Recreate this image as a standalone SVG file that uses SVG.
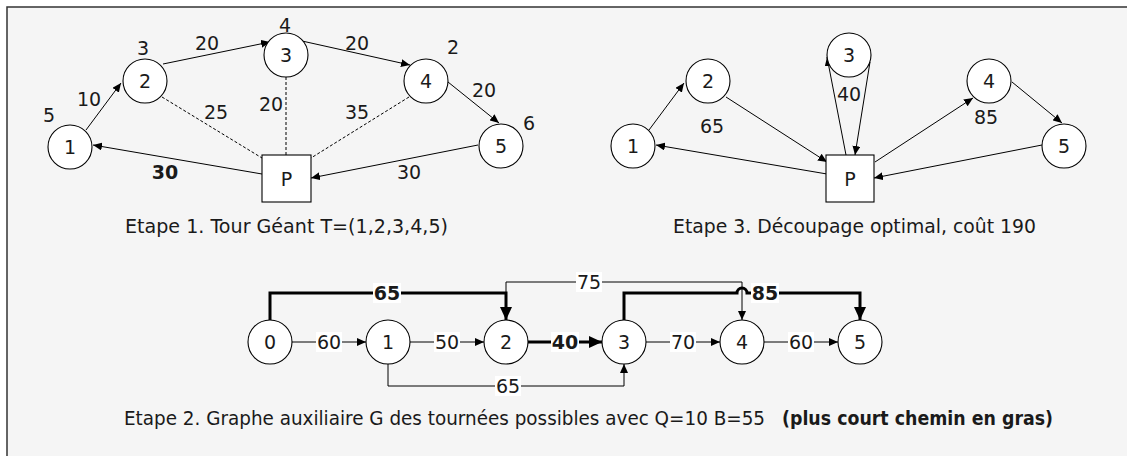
<svg xmlns="http://www.w3.org/2000/svg" width="1127" height="456" viewBox="0 0 1127 456">
<style>
text{font-family:"DejaVu Sans","Liberation Sans",sans-serif;font-size:19px;fill:#1a1a1a}
.m{text-anchor:middle}
.b{font-weight:bold}
.n circle,.n rect{fill:#fff;stroke:#000;stroke-width:1.1}
.e{fill:none;stroke:#000;stroke-width:1}
.d{fill:none;stroke:#000;stroke-width:1;stroke-dasharray:3,2}
.t{fill:none;stroke:#000;stroke-width:3}
.lb{fill:#fff}
</style>
<defs>
<marker id="a" markerUnits="userSpaceOnUse" markerWidth="10" markerHeight="8" refX="9" refY="4" orient="auto"><path d="M0,0 L9,4 L0,8 z" fill="#000"/></marker>
<marker id="A" markerUnits="userSpaceOnUse" markerWidth="14" markerHeight="12" refX="13" refY="6" orient="auto"><path d="M0,0 L13,6 L0,12 z" fill="#000"/></marker>
</defs>
<rect x="7" y="7" width="1130" height="460" fill="#f5f5f5" stroke="#333" stroke-width="1.5"/>

<g id="connectors">
<!-- Etape 1 -->
<line class="e" x1="86" y1="130" x2="121" y2="83" marker-end="url(#a)"/>
<line class="e" x1="163" y1="64" x2="270" y2="42" marker-end="url(#a)"/>
<line class="e" x1="302" y1="41" x2="410" y2="65" marker-end="url(#a)"/>
<line class="e" x1="448" y1="82" x2="499" y2="123" marker-end="url(#a)"/>
<line class="e" x1="478" y1="145" x2="311" y2="178" marker-end="url(#a)"/>
<line class="e" x1="262" y1="174" x2="93" y2="145" marker-end="url(#a)"/>
<line class="d" x1="162" y1="97" x2="262" y2="158"/>
<line class="d" x1="286" y1="77" x2="286" y2="155"/>
<line class="d" x1="409" y1="97" x2="311" y2="158"/>
<!-- Etape 3 -->
<line class="e" x1="649" y1="130" x2="684" y2="83" marker-end="url(#a)"/>
<line class="e" x1="726" y1="97" x2="827" y2="162" marker-end="url(#a)"/>
<line class="e" x1="827" y1="174" x2="656" y2="145" marker-end="url(#a)"/>
<line class="e" x1="846" y1="155" x2="827" y2="57" marker-end="url(#a)"/>
<line class="e" x1="870" y1="62" x2="855" y2="155" marker-end="url(#a)"/>
<line class="e" x1="875" y1="162" x2="973" y2="98" marker-end="url(#a)"/>
<line class="e" x1="1012" y1="82" x2="1062" y2="123" marker-end="url(#a)"/>
<line class="e" x1="1042" y1="145" x2="874" y2="178" marker-end="url(#a)"/>
<!-- Etape 2 -->
<line class="e" x1="292" y1="342" x2="366" y2="342" marker-end="url(#a)"/>
<line class="e" x1="410" y1="342" x2="484" y2="342" marker-end="url(#a)"/>
<line class="t" x1="528" y1="342" x2="602" y2="342" marker-end="url(#A)"/>
<line class="e" x1="646" y1="342" x2="720" y2="342" marker-end="url(#a)"/>
<line class="e" x1="764" y1="342" x2="838" y2="342" marker-end="url(#a)"/>
<path class="e" d="M506,320 V282 H742 V320" marker-end="url(#a)"/>
<path class="t" d="M270,320 V293 H506 V320" marker-end="url(#A)"/>
<path class="t" d="M624,320 V293 H737 A5,5 0 0 1 747,293 H860 V320" marker-end="url(#A)"/>
<path class="e" d="M388,364 V386 H624 V364" marker-end="url(#a)"/>
</g>

<g id="labels-etape1">
<text class="m" x="49" y="122">5</text>
<text class="m" x="89" y="106">10</text>
<text class="m" x="143" y="55">3</text>
<text class="m" x="207" y="50">20</text>
<text class="m" x="285" y="32">4</text>
<text class="m" x="357" y="50">20</text>
<text class="m" x="453" y="54">2</text>
<text class="m" x="484" y="97">20</text>
<text class="m" x="529" y="130">6</text>
<text class="m" x="216" y="119">25</text>
<text class="m" x="271" y="111">20</text>
<text class="m" x="357" y="119">35</text>
<text class="m b" x="165" y="179">30</text>
<text class="m" x="409" y="179">30</text>
<text x="125" y="233" textLength="323" lengthAdjust="spacingAndGlyphs">Etape 1. Tour Géant T=(1,2,3,4,5)</text>
</g>
<g id="labels-etape3">
<text class="m" x="712" y="133">65</text>
<text class="m" x="849" y="101">40</text>
<text class="m" x="986" y="124">85</text>
<text x="673" y="233" textLength="363" lengthAdjust="spacingAndGlyphs">Etape 3. Découpage optimal, coût 190</text>
</g>
<g id="labels-etape2">
<rect class="lb" x="316" y="332" width="26" height="20"/><text class="m" x="329" y="349">60</text>
<rect class="lb" x="434" y="332" width="26" height="20"/><text class="m" x="447" y="349">50</text>
<rect class="lb" x="551" y="332" width="28" height="20"/><text class="m b" x="565" y="349">40</text>
<rect class="lb" x="670" y="332" width="26" height="20"/><text class="m" x="683" y="349">70</text>
<rect class="lb" x="788" y="332" width="26" height="20"/><text class="m" x="801" y="349">60</text>
<rect class="lb" x="373" y="283" width="28" height="20"/><text class="m b" x="387" y="300">65</text>
<rect class="lb" x="576" y="272" width="26" height="20"/><text class="m" x="589" y="289">75</text>
<rect class="lb" x="751" y="283" width="28" height="20"/><text class="m b" x="765" y="300">85</text>
<rect class="lb" x="495" y="376" width="26" height="20"/><text class="m" x="508" y="393">65</text>
<text x="124" y="425" textLength="641" lengthAdjust="spacingAndGlyphs">Etape 2. Graphe auxiliaire G des tournées possibles avec Q=10 B=55</text>
<text class="b" x="782" y="425" textLength="271" lengthAdjust="spacingAndGlyphs">(plus court chemin en gras)</text>
</g>

<g id="e1-n1" class="n"><circle cx="70" cy="147" r="22"/><text class="m" x="70" y="154">1</text></g>
<g id="e1-n2" class="n"><circle cx="145" cy="81" r="22"/><text class="m" x="145" y="88">2</text></g>
<g id="e1-n3" class="n"><circle cx="286" cy="55" r="22"/><text class="m" x="286" y="62">3</text></g>
<g id="e1-n4" class="n"><circle cx="426" cy="81" r="22"/><text class="m" x="426" y="88">4</text></g>
<g id="e1-n5" class="n"><circle cx="501" cy="146" r="22"/><text class="m" x="501" y="153">5</text></g>
<g id="e1-P" class="n"><rect x="262" y="155" width="49" height="47"/><text class="m" x="286.5" y="186">P</text></g>

<g id="e3-n1" class="n"><circle cx="633" cy="146" r="22"/><text class="m" x="633" y="153">1</text></g>
<g id="e3-n2" class="n"><circle cx="708" cy="81" r="22"/><text class="m" x="708" y="88">2</text></g>
<g id="e3-n3" class="n"><circle cx="849" cy="55" r="22"/><text class="m" x="849" y="62">3</text></g>
<g id="e3-n4" class="n"><circle cx="989" cy="81" r="22"/><text class="m" x="989" y="88">4</text></g>
<g id="e3-n5" class="n"><circle cx="1064" cy="146" r="22"/><text class="m" x="1064" y="153">5</text></g>
<g id="e3-P" class="n"><rect x="826" y="155" width="48" height="47"/><text class="m" x="850" y="186">P</text></g>

<g id="e2-n0" class="n"><circle cx="270" cy="342" r="22"/><text class="m" x="270" y="349">0</text></g>
<g id="e2-n1" class="n"><circle cx="388" cy="342" r="22"/><text class="m" x="388" y="349">1</text></g>
<g id="e2-n2" class="n"><circle cx="506" cy="342" r="22"/><text class="m" x="506" y="349">2</text></g>
<g id="e2-n3" class="n"><circle cx="624" cy="342" r="22"/><text class="m" x="624" y="349">3</text></g>
<g id="e2-n4" class="n"><circle cx="742" cy="342" r="22"/><text class="m" x="742" y="349">4</text></g>
<g id="e2-n5" class="n"><circle cx="860" cy="342" r="22"/><text class="m" x="860" y="349">5</text></g>
</svg>
